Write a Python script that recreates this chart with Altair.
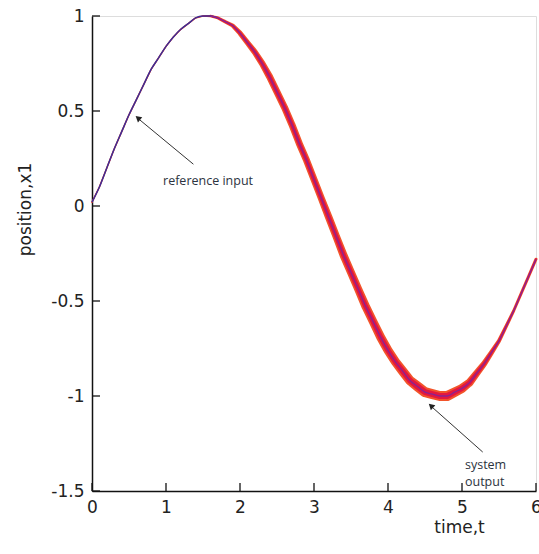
import altair as alt
import pandas as pd

# time values (s) and positions
t_vals = [round(i * 0.1, 1) for i in range(61)]
ref_vals = [0.02, 0.10, 0.20, 0.30, 0.39, 0.48, 0.56, 0.64, 0.72, 0.78,
            0.84, 0.89, 0.93, 0.96, 0.99, 1.00, 1.00, 0.99, 0.97, 0.95,
            0.91, 0.86, 0.81, 0.75, 0.68, 0.60, 0.52, 0.43, 0.33, 0.24,
            0.14, 0.04, -0.06, -0.16, -0.26, -0.35, -0.44, -0.53, -0.61, -0.69,
            -0.76, -0.82, -0.87, -0.92, -0.95, -0.98, -0.99, -1.00, -1.00, -0.98,
            -0.96, -0.93, -0.88, -0.83, -0.77, -0.71, -0.63, -0.55, -0.46, -0.37,
            -0.28]
# apparent thickness (px) of the system-output band
band_px = [1.5, 1.5, 1.5, 1.5, 1.5, 1.5, 1.5, 1.5, 1.5, 1.5,
           1.5, 1.5, 1.5, 1.5, 1.5, 1.5, 2.5, 3, 3.5, 4,
           5, 5.5, 6, 6.5, 7, 7, 7, 7, 7, 7,
           7, 7, 7.5, 7.5, 8, 8, 8, 8.5, 8.5, 9,
           9, 9, 9.5, 9.5, 10, 10, 10, 10, 10, 9.5,
           9, 8, 7, 6, 5, 4, 3.5, 3, 3, 3,
           3]

x_ticks = [0, 1, 2, 3, 4, 5, 6]
y_ticks = [-1.5, -1, -0.5, 0, 0.5, 1]

df = pd.DataFrame({"t": t_vals, "x1": ref_vals, "w": band_px})
df["w_in"] = df["w"] * 0.6

W, H = 444, 475
xs = alt.Scale(domain=[0, 6], nice=False)
ys = alt.Scale(domain=[-1.5, 1], nice=False)

font = "DejaVu Sans"
xax = alt.Axis(values=x_ticks, tickSize=0, labelPadding=8, labelFont=font, labelFontSize=17,
               labelColor="#222", domainColor="#111", domainWidth=1.5, grid=False,
               labelExpr="'' + datum.value",
               title="time,t", titleFont=font, titleFontSize=17, titleFontWeight="normal",
               titleColor="#222", titleX=367, titleY=28, titleAnchor="start", titleAlign="center",
               titleBaseline="top", labelFlush=False)
yax = alt.Axis(values=y_ticks, tickSize=0, labelPadding=8, labelFont=font, labelFontSize=17,
               labelColor="#222", domainColor="#111", domainWidth=1.5, grid=False,
               labelExpr="'' + datum.value",
               title="position,x1", titleFont=font, titleFontSize=17, titleFontWeight="normal",
               titleColor="#222", titleX=-58, titleY=193, titleAlign="center", titleAnchor="start",
               labelFlush=False)

base = alt.Chart(df)

outer = base.mark_trail(color="#f2542a").encode(
    x=alt.X("t:Q", scale=xs, axis=xax),
    y=alt.Y("x1:Q", scale=ys, axis=yax),
    size=alt.Size("w:Q", scale=None, legend=None),
    order="t:Q",
)
inner = base.mark_trail(color="#e3173f").encode(
    x=alt.X("t:Q", scale=xs), y=alt.Y("x1:Q", scale=ys),
    size=alt.Size("w_in:Q", scale=None, legend=None), order="t:Q",
)
ref_left = base.transform_filter("datum.t <= 1.7").mark_line(
    color="#3d2f96", strokeWidth=1.5, interpolate="monotone").encode(
    x=alt.X("t:Q", scale=xs), y=alt.Y("x1:Q", scale=ys), order="t:Q",
)
ref_right = base.transform_filter("datum.t >= 1.6").mark_line(
    color="#8a2390", strokeWidth=1.3, interpolate="monotone").encode(
    x=alt.X("t:Q", scale=xs), y=alt.Y("x1:Q", scale=ys), order="t:Q",
)

# inward tick marks
xt = alt.Chart(pd.DataFrame({"t": x_ticks})).mark_rule(color="#111", strokeWidth=1.3).encode(
    x=alt.X("t:Q", scale=xs), y=alt.value(H), y2=alt.value(H - 8))
yt = alt.Chart(pd.DataFrame({"v": y_ticks})).mark_rule(color="#111", strokeWidth=1.3).encode(
    y=alt.Y("v:Q", scale=ys), x=alt.value(0), x2=alt.value(8))

# annotations
arrows = pd.DataFrame({"t0": [1.37, 5.28], "y0": [0.22, -1.295],
                       "t1": [0.64, 4.6], "y1": [0.455, -1.06]})
arrow_lines = alt.Chart(arrows).mark_rule(color="#333", strokeWidth=1).encode(
    x=alt.X("t0:Q", scale=xs), y=alt.Y("y0:Q", scale=ys),
    x2="t1:Q", y2="y1:Q")
heads = pd.DataFrame({"t": [0.63, 4.59], "y": [0.46, -1.055], "ang": [310, 312]})
arrow_heads = alt.Chart(heads).mark_point(shape="triangle", filled=True, color="#222",
                                          size=45, opacity=1).encode(
    x=alt.X("t:Q", scale=xs), y=alt.Y("y:Q", scale=ys), angle=alt.Angle("ang:Q", scale=None))

labels = pd.DataFrame({"t": [0.96, 5.04, 5.04], "y": [0.13, -1.365, -1.455],
                       "txt": ["reference input", "system", "output"]})
ann = alt.Chart(labels).mark_text(align="left", baseline="middle", font="Open Sans",
                                  fontSize=12.5, color="#2c3340").encode(
    x=alt.X("t:Q", scale=xs), y=alt.Y("y:Q", scale=ys), text="txt:N")

chart = alt.layer(outer, inner, ref_left, ref_right, xt, yt, arrow_lines, arrow_heads, ann).properties(
    width=W, height=H,
    autosize=alt.AutoSizeParams(type="none"),
    padding={"left": 92, "top": 16, "right": 3, "bottom": 63},
).configure_view(stroke=None).configure(background="white")

chart.save("out.html", embed_options={"renderer": "svg", "actions": False})
